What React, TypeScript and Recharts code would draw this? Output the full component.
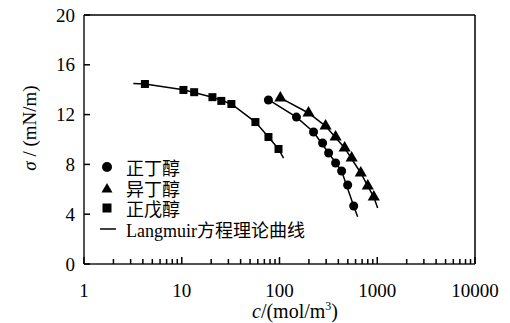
import { ComposedChart, Scatter, XAxis, YAxis, ReferenceLine } from "recharts";

const SERIF = "Liberation Serif, DejaVu Serif, serif";
const CJK = "Liberation Serif, Noto Sans CJK SC, serif";
const TM = 20; // gap between axis and tick label anchor

const X_TICKS = [1, 10, 100, 1000, 10000];
const X_MINOR = [
  2, 3, 4, 5, 6, 7, 8, 9,
  20, 30, 40, 50, 60, 70, 80, 90,
  200, 300, 400, 500, 600, 700, 800, 900,
  2000, 3000, 4000, 5000, 6000, 7000, 8000, 9000,
];
const Y_TICKS = [0, 4, 8, 12, 16, 20];

// measured points (c in mol/m3, sigma in mN/m)
const BUTANOL_C = [77, 149, 223, 276, 318, 375, 432, 498, 574];
const BUTANOL_S = [13.17, 11.8, 10.6, 9.72, 8.92, 8.11, 7.47, 6.35, 4.66];
const ISOBUTANOL_C = [102, 198, 296, 375, 464, 547, 678, 800, 921];
const ISOBUTANOL_S = [13.33, 12.13, 11.08, 10.2, 9.32, 8.51, 7.31, 6.27, 5.38];
const PENTANOL_C = [4.2, 10.4, 13.4, 20.6, 25.4, 32.2, 56.7, 77.1, 97.7];
const PENTANOL_S = [14.46, 13.98, 13.8, 13.4, 13.1, 12.85, 11.4, 10.2, 9.24];

// Langmuir curves as traced
const BUTANOL_FIT_C = [77, 149, 223, 318, 432, 574, 630];
const BUTANOL_FIT_S = [13.2, 11.8, 10.6, 8.92, 7.47, 4.66, 3.8];
const ISOBUTANOL_FIT_C = [102, 198, 296, 464, 678, 921, 1010];
const ISOBUTANOL_FIT_S = [13.35, 12.13, 11.08, 9.32, 7.31, 5.38, 4.5];
const PENTANOL_FIT_C = [3.2, 4.2, 10.4, 20.6, 32.2, 56.7, 77.1, 97.7, 110];
const PENTANOL_FIT_S = [14.5, 14.45, 14.0, 13.4, 12.85, 11.4, 10.2, 9.24, 8.5];

const LEGEND_NAMES = ["正丁醇", "异丁醇", "正戊醇", "Langmuir方程理论曲线"];

const pts = (c: number[], s: number[]) => c.map((v, i) => ({ c: v, s: s[i] }));

const XTick = ({ x, y, payload }: any) => {
  const major = X_TICKS.includes(payload.value);
  return (
    <g>
      <line x1={x} x2={x} y1={y - TM} y2={y - TM - (major ? 7 : 5)} stroke="#000" strokeWidth={1.5} />
      {major && (
        <text x={x} y={y} dy="0.71em" textAnchor="middle" fill="#000" fontSize={19} style={{ fontFamily: SERIF }}>
          {payload.value}
        </text>
      )}
    </g>
  );
};

const YTick = ({ x, y, payload }: any) => (
  <g>
    <line x1={x + TM} x2={x + TM + 6} y1={y} y2={y} stroke="#000" strokeWidth={1.5} />
    <text x={x + TM - 9} y={y} dy="0.35em" textAnchor="end" fill="#000" fontSize={19} style={{ fontFamily: SERIF }}>
      {payload.value}
    </text>
  </g>
);

const NoDot = () => <g />;

const Marker = ({ kind }: { kind: number }) => (
  <svg width={16} height={14} style={{ display: "block" }}>
    {kind === 0 && <circle cx={7} cy={7} r={5} fill="#000" />}
    {kind === 1 && <polygon points="7,2 12.5,11.5 1.5,11.5" fill="#000" />}
    {kind === 2 && <rect x={2.5} y={2.5} width={9} height={9} fill="#000" />}
    {kind === 3 && <line x1={0} x2={16} y1={7} y2={7} stroke="#000" strokeWidth={1.5} />}
  </svg>
);

export default function App() {
  return (
    <div style={{ position: "absolute", left: 0, top: 0, width: 510, height: 323, background: "#fff" }}>
      <ComposedChart width={510} height={323} margin={{ top: 15, right: 35, bottom: 0, left: 0 }}>
        <XAxis
          dataKey="c"
          type="number"
          scale="log"
          domain={[1, 10000]}
          ticks={[...X_TICKS, ...X_MINOR]}
          interval={0}
          height={59}
          allowDataOverflow
          tickSize={0}
          tickMargin={TM}
          tick={<XTick />}
          tickLine={false}
        />
        <YAxis
          dataKey="s"
          type="number"
          domain={[0, 20]}
          ticks={Y_TICKS}
          interval={0}
          width={84}
          allowDataOverflow
          tickSize={0}
          tickMargin={TM}
          tick={<YTick />}
          tickLine={false}
        />
        <ReferenceLine y={0} stroke="#000" strokeWidth={1.5} />
        <ReferenceLine x={1} stroke="#000" strokeWidth={1.5} />
        <ReferenceLine y={20} stroke="#000" strokeWidth={1.5} />
        <ReferenceLine x={10000} stroke="#000" strokeWidth={1.5} />
        <Scatter data={pts(BUTANOL_FIT_C, BUTANOL_FIT_S)} dataKey="s" line={{ stroke: "#000", strokeWidth: 1.5 }} lineType="joint" shape={<NoDot />} isAnimationActive={false} />
        <Scatter data={pts(ISOBUTANOL_FIT_C, ISOBUTANOL_FIT_S)} dataKey="s" line={{ stroke: "#000", strokeWidth: 1.5 }} lineType="joint" shape={<NoDot />} isAnimationActive={false} />
        <Scatter data={pts(PENTANOL_FIT_C, PENTANOL_FIT_S)} dataKey="s" line={{ stroke: "#000", strokeWidth: 1.5 }} lineType="joint" shape={<NoDot />} isAnimationActive={false} />
        <Scatter name="正丁醇" data={pts(BUTANOL_C, BUTANOL_S)} dataKey="s" shape="circle" fill="#000" isAnimationActive={false} />
        <Scatter name="异丁醇" data={pts(ISOBUTANOL_C, ISOBUTANOL_S)} dataKey="s" shape="triangle" fill="#000" isAnimationActive={false} />
        <Scatter name="正戊醇" data={pts(PENTANOL_C, PENTANOL_S)} dataKey="s" shape="square" fill="#000" isAnimationActive={false} />
        <text x={295} y={318} textAnchor="middle" fill="#000" fontSize={20} style={{ fontFamily: SERIF }}>
          <tspan fontStyle="italic">c</tspan>
          <tspan>/(mol/m</tspan>
          <tspan fontSize={12} dy={-8}>3</tspan>
          <tspan dy={8}>)</tspan>
        </text>
        <text
          x={36}
          y={128}
          transform="rotate(-90, 36, 128)"
          textAnchor="middle"
          fill="#000"
          fontSize={19}
          style={{ fontFamily: SERIF }}
        >
          <tspan fontStyle="italic">σ</tspan>
          <tspan> / (mN/m)</tspan>
        </text>
      </ComposedChart>
      <div style={{ position: "absolute", left: 100, top: 157, fontFamily: CJK, fontSize: 18, color: "#000" }}>
        {LEGEND_NAMES.map((name, i) => (
          <div key={name} style={{ display: "flex", alignItems: "center", height: 20.5, whiteSpace: "nowrap" }}>
            <Marker kind={i} />
            <span style={{ marginLeft: 10 }}>{name}</span>
          </div>
        ))}
      </div>
    </div>
  );
}
